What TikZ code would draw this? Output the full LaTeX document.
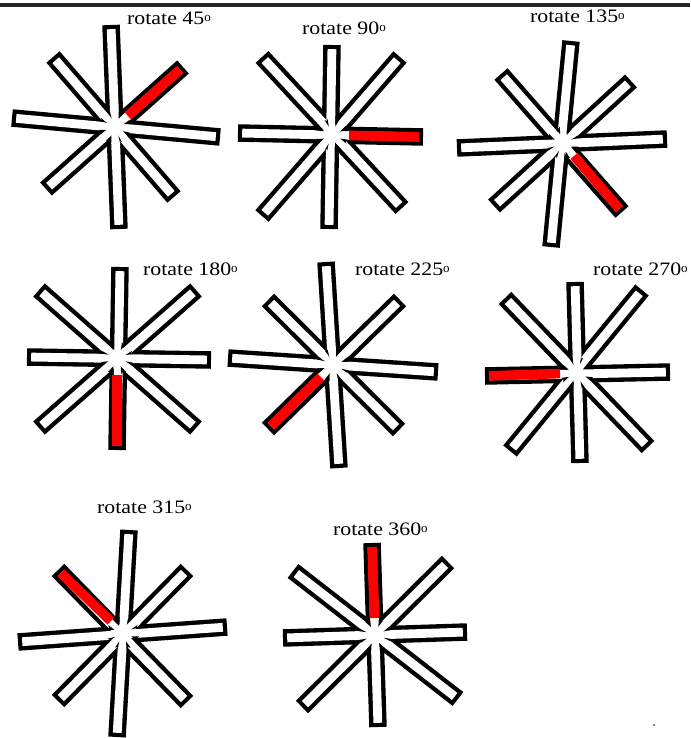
\documentclass[tikz,border=0pt]{standalone}
\usepackage{fontspec}
\setmainfont{Liberation Serif}
\usetikzlibrary{calc}
\tikzset{
  outerbar/.style={line width=17.5pt, draw=black},
  innerbar/.style={line width=8.8pt, draw=white, shorten >=4.2pt, shorten <=4.2pt},
  redbar/.style={line width=9.6pt, draw=red, shorten >=4pt},
  notchfill/.style={fill=black},
  lbl/.style={anchor=base west, inner sep=0pt, font=\fontsize{19}{19}\selectfont},
  topline/.style={line width=4pt, draw=black!85},
}
\newcommand\rotlabel[1]{\scalebox{1.15}[1]{rotate #1}{\fontsize{13}{13}\selectfont\raisebox{3pt}{o}}}
\begin{document}
\begin{tikzpicture}[x=1pt,y=-1pt]
\useasboundingbox (0,0) rectangle (690,738);
\coordinate (tl) at (0,5); \coordinate (tr) at (690,5);
\draw[topline] (tl) -- (tr);
% figure 1
\coordinate (c1) at (115,127);
\coordinate (c1a) at (111,25);  \coordinate (c1b) at (119,229);
\coordinate (c1c) at (12,118);  \coordinate (c1d) at (220,137);
\coordinate (c1e) at (53,57);   \coordinate (c1f) at (174,197);
\coordinate (c1g) at (183,67);  \coordinate (c1h) at (46,189);
% figure 2
\coordinate (c2) at (332,135);
\coordinate (c2a) at (332,45);  \coordinate (c2b) at (329,229);
\coordinate (c2c) at (238,133); \coordinate (c2d) at (423,137);
\coordinate (c2e) at (262,57);  \coordinate (c2f) at (402,208);
\coordinate (c2g) at (400,57);  \coordinate (c2h) at (262,216);
% figure 3
\coordinate (c3) at (563,143);
\coordinate (c3a) at (571,41);  \coordinate (c3b) at (551,247);
\coordinate (c3c) at (457,148); \coordinate (c3d) at (667,139);
\coordinate (c3e) at (501,74);  \coordinate (c3f) at (622,212);
\coordinate (c3g) at (631,81);  \coordinate (c3h) at (494,206);
% figure 4
\coordinate (c4) at (117,358);
\coordinate (c4a) at (120,267); \coordinate (c4b) at (117,450);
\coordinate (c4c) at (27,357);  \coordinate (c4d) at (211,360);
\coordinate (c4e) at (39,290);  \coordinate (c4f) at (196,428);
\coordinate (c4g) at (196,290); \coordinate (c4h) at (39,428);
% figure 5
\coordinate (c5) at (333,365);
\coordinate (c5a) at (326,262); \coordinate (c5b) at (339,468);
\coordinate (c5c) at (228,358); \coordinate (c5d) at (438,372);
\coordinate (c5e) at (268,300); \coordinate (c5f) at (399,430);
\coordinate (c5g) at (400,300); \coordinate (c5h) at (268,429);
% figure 6
\coordinate (c6) at (577,373);
\coordinate (c6a) at (575,282); \coordinate (c6b) at (580,463);
\coordinate (c6c) at (485,376); \coordinate (c6d) at (670,372);
\coordinate (c6e) at (505,298); \coordinate (c6f) at (648,447);
\coordinate (c6g) at (642,290); \coordinate (c6h) at (510,451);
% figure 7
\coordinate (c7) at (123,633);
\coordinate (c7a) at (129,530); \coordinate (c7b) at (117,737);
\coordinate (c7c) at (18,642);  \coordinate (c7d) at (227,627);
\coordinate (c7e) at (58,570);  \coordinate (c7f) at (187,702);
\coordinate (c7g) at (187,570); \coordinate (c7h) at (58,701);
% figure 8
\coordinate (c8) at (375,635);
\coordinate (c8a) at (372,543); \coordinate (c8b) at (378,727);
\coordinate (c8c) at (283,638); \coordinate (c8d) at (467,632);
\coordinate (c8e) at (293,571); \coordinate (c8f) at (458,699);
\coordinate (c8g) at (448,562); \coordinate (c8h) at (302,707);
% bars
\foreach \i in {1,...,8}{
  \foreach \p/\q in {a/b,c/d,e/f,g/h}{\draw[outerbar] (c\i\p) -- (c\i\q);}
  \foreach \p/\q in {a/b,c/d,e/f,g/h}{\draw[innerbar] (c\i\p) -- (c\i\q);}
  % deepen the notches of the central star
  \foreach \p/\q in {a/g,g/d,d/f,f/b,b/h,h/c,c/e,e/a}{
    \path ($(c\i)!10pt!(c\i\p)$) coordinate (up) ($(c\i)!10pt!(c\i\q)$) coordinate (uq);
    \path ($(up)!0.5!(uq)$) coordinate (um);
    \fill[notchfill] ($(c\i)!9pt!(um)$)
      -- ($($(c\i)!16pt!(c\i\p)$)!4.4pt!-90:(c\i\p)$)
      -- ($(c\i)!15pt!(um)$)
      -- ($($(c\i)!16pt!(c\i\q)$)!4.4pt!90:(c\i\q)$) -- cycle;
  }
}
% red arms
\foreach \i/\e in {1/g,2/d,3/f,4/b,5/h,6/c,7/e,8/a}{
  \draw[redbar] ($(c\i)!17pt!(c\i\e)$) -- (c\i\e);
}
% labels
\node[lbl] (l1) at (127,25)  {\rotlabel{45}};
\node[lbl] (l2) at (302,35)  {\rotlabel{90}};
\node[lbl] (l3) at (530,23)  {\rotlabel{135}};
\node[lbl] (l4) at (143,275) {\rotlabel{180}};
\node[lbl] (l5) at (355,275) {\rotlabel{225}};
\node[lbl] (l6) at (593,275) {\rotlabel{270}};
\node[lbl] (l7) at (97,513)  {\rotlabel{315}};
\node[lbl] (l8) at (333,535) {\rotlabel{360}};
% stray dot
\fill[gray] (653.3,724.3) rectangle (654.7,725.7);
\end{tikzpicture}
\end{document}
